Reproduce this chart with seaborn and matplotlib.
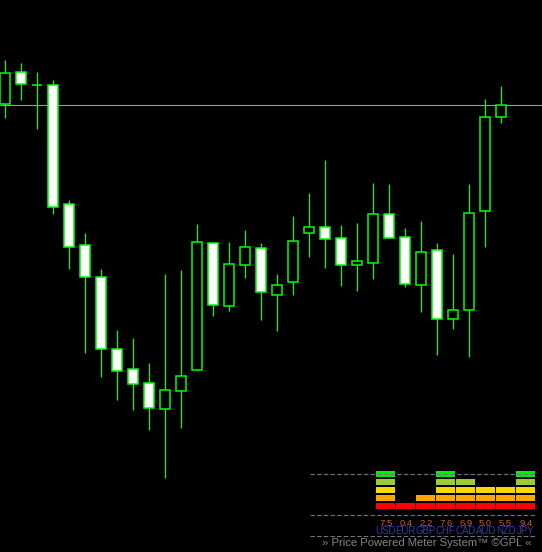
import numpy as np
import matplotlib
matplotlib.use("Agg")
import matplotlib.pyplot as plt
import seaborn as sns

# =============================================================================
# DATA
# =============================================================================

# OHLC of the 32 visible bars (oldest first)
OPEN = [1.2448, 1.2480, 1.2467, 1.2467, 1.2348, 1.2307, 1.2275, 1.2203,
        1.2183, 1.2169, 1.2143, 1.2161, 1.2182, 1.2309, 1.2246, 1.2287,
        1.2304, 1.2257, 1.2270, 1.2319, 1.2325, 1.2314, 1.2287, 1.2289,
        1.2338, 1.2315, 1.2267, 1.2302, 1.2233, 1.2242, 1.2341, 1.2435]
HIGH = [1.2492, 1.2489, 1.2480, 1.2472, 1.2352, 1.2319, 1.2283, 1.2222,
        1.2214, 1.2189, 1.2278, 1.2282, 1.2328, 1.2309, 1.2310, 1.2322,
        1.2309, 1.2278, 1.2336, 1.2359, 1.2392, 1.2327, 1.2329, 1.2369,
        1.2368, 1.2324, 1.2331, 1.2309, 1.2298, 1.2368, 1.2453, 1.2466]
LOW = [1.2434, 1.2452, 1.2423, 1.2338, 1.2283, 1.2199, 1.2175, 1.2152,
       1.2142, 1.2122, 1.2074, 1.2124, 1.2182, 1.2236, 1.2241, 1.2274,
       1.2232, 1.2221, 1.2257, 1.2295, 1.2284, 1.2266, 1.2261, 1.2273,
       1.2314, 1.2265, 1.2240, 1.2197, 1.2223, 1.2195, 1.2305, 1.2429]
CLOSE = [1.2479, 1.2468, 1.2467, 1.2345, 1.2305, 1.2275, 1.2203, 1.2181,
         1.2168, 1.2144, 1.2162, 1.2176, 1.2310, 1.2247, 1.2288, 1.2305,
         1.2260, 1.2267, 1.2311, 1.2325, 1.2313, 1.2287, 1.2291, 1.2338,
         1.2314, 1.2268, 1.2300, 1.2233, 1.2242, 1.2339, 1.2435, 1.2447]
BID = 1.2447

# Price Powered Meter
CURRENCIES = ['USD', 'EUR', 'GBP', 'CHF', 'CAD', 'AUD', 'NZD', 'JPY']
STRENGTH = [7.5, 0.4, 2.2, 7.6, 6.9, 5.0, 5.5, 9.4]
LEVELS = [5, 1, 2, 5, 4, 3, 3, 5]
FOOTER = "» Price Powered Meter System™ ©GPL «"

# =============================================================================
# STYLE
# =============================================================================

W, H = 542, 552
EDGE = '#00FF00'
LEVEL_COLORS = ['#FF0000', '#FFA500', '#FFD700', '#9ACD32', '#00F000']
DASH_COLOR = '#6f7480'

sns.set_theme(style="dark", rc={
    'axes.facecolor': 'black',
    'figure.facecolor': 'black',
    'savefig.facecolor': 'black',
})
plt.rcParams['font.family'] = ['Liberation Sans', 'DejaVu Sans']

fig = plt.figure(figsize=(W / 100, H / 100), dpi=100)

# --- candles ---------------------------------------------------------------
ax = fig.add_axes([0, 0, 1, 1])
ax.set_facecolor('black')
n = len(OPEN)
x = np.arange(n)
o, h, l, c = map(np.array, (OPEN, HIGH, LOW, CLOSE))

ax.axhline(BID, color='#9a9a9a', lw=0.8, zorder=1)
ax.vlines(x, l, h, color=EDGE, lw=0.9, zorder=2)

bottom = np.minimum(o, c)
height = np.abs(c - o)
fill = ['black' if cc > oo else 'white' for oo, cc in zip(o, c)]
ax.bar(x, height, bottom=bottom, width=0.64, color=fill, edgecolor=EDGE,
       linewidth=1.1, zorder=3)

# pixel-aligned limits: bar i centred at 5 + 16*i px
ax.set_xlim(-5 / 16, (W - 5) / 16)
ax.set_ylim(1.2000, 1.2000 + H / 10000)
ax.axis('off')

# --- meter (pixel coordinates overlay) --------------------------------------
am = fig.add_axes([0, 0, 1, 1])
am.set_xlim(0, W)
am.set_ylim(H, 0)
am.patch.set_alpha(0)
am.axis('off')

col_x = 385.7 + 20 * np.arange(len(CURRENCIES))
for r, col in enumerate(LEVEL_COLORS):
    on = [lv > r for lv in LEVELS]
    am.bar(col_x[on], -6, bottom=509 - 8 * r, width=19.3, color=col,
           linewidth=0, zorder=2)

for yy in (473.7, 515.3, 536):
    am.plot([310, 536], [yy, yy], color=DASH_COLOR, lw=0.8,
            dashes=(4, 2), zorder=3)

for cx, v, cur in zip(col_x, STRENGTH, CURRENCIES):
    am.text(cx, 525.5, f"{v:.1f}", color='#C8602A', fontsize=6.8,
            ha='center', va='baseline')
    am.text(cx, 534.3, cur, color='#3a3aaa', fontsize=6.9,
            ha='center', va='baseline')

am.text(531, 543, FOOTER, color='#858585', fontsize=8.1,
        ha='right', va='center')

fig.savefig('out.png', dpi=100)
